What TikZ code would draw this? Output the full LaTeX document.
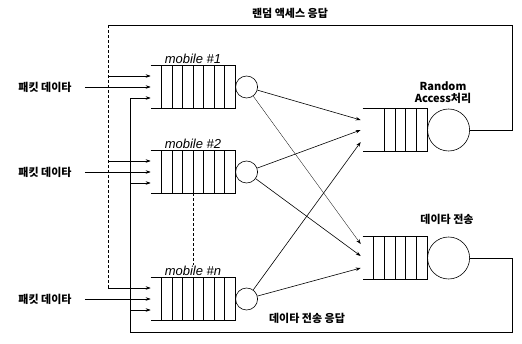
\documentclass[tikz,border=0pt]{standalone}
\usepackage{fontspec}
\newfontfamily\kr{Noto Sans CJK KR}
\newfontfamily\lat{Liberation Sans}
\usetikzlibrary{positioning,calc,arrows.meta}

\begin{document}
\begin{tikzpicture}[x=1pt, y=-1pt, line width=0.6pt,
    lbl/.style={font=\kr\bfseries\fontsize{11}{12}\selectfont, inner sep=1pt},
    mlbl/.style={font=\lat\itshape\fontsize{13}{14}\selectfont, inner sep=1pt},
    qbox/.style={rectangle, minimum width=84pt, minimum height=42pt, inner sep=0pt},
    rqbox/.style={rectangle, minimum width=64pt, minimum height=42pt, inner sep=0pt},
    srv/.style={circle, draw, inner sep=0pt, minimum size=22pt},
    bigsrv/.style={circle, draw, inner sep=0pt, minimum size=42pt},
    conn/.style={-{Stealth[length=5pt, width=3.5pt]}},
    fb/.style={line width=0.5pt}]
    \useasboundingbox (0,0) rectangle (522,343);

    % Feedback corners
    \coordinate (fbA) at (108,25);
    \coordinate (fbAr) at (512,25);
    \coordinate (fbB) at (130,332);
    \coordinate (fbBr) at (512,332);

    % Random access and data queues
    \node[rqbox] (rq) at (395,130) {};
    \node[rqbox] (dq) at (395,258) {};
    \foreach \q/\first in {rq/2, dq/1} {
        \draw (\q.north west) -- (\q.north east) -- (\q.south east) -- (\q.south west);
        \foreach \i in {\first,...,5}
            \draw ($(\q.north west)!\i/6!(\q.north east)$) -- ($(\q.south west)!\i/6!(\q.south east)$);
    }
    \node[bigsrv, right=0pt of rq] (ra) {};
    \node[bigsrv, right=0pt of dq] (dt) {};
    \node[lbl, align=center] (ralbl) at (443,93) {Random\\Access처리};
    \node[lbl] (dtlbl) at (447,219) {데이타 전송};

    % Mobile queues
    \foreach \n/\y in {1/87, 2/172, n/299} {
        \node[qbox] (q\n) at (193,\y) {};
        \draw (q\n.north west) -- (q\n.north east) -- (q\n.south east) -- (q\n.south west);
        \foreach \i in {1,...,7}
            \draw ($(q\n.north west)!\i/8!(q\n.north east)$) -- ($(q\n.south west)!\i/8!(q\n.south east)$);
        \node[srv, right=0pt of q\n] (s\n) {};
        \node[mlbl, above=1pt of q\n] (ml\n) {mobile \#\n};
        \node[lbl] (pk\n) at (45,\y) {패킷 데이타};
        \coordinate (ina\n) at ([yshift=11pt]q\n.west);
        \coordinate (inc\n) at ([yshift=-11pt]q\n.west);
        \draw[conn] ([xshift=12pt]pk\n.east) -- (q\n.west);
    }
    \draw[densely dashed] (q2.south) -- (q2.south |- mln.north);

    % Random access response
    \draw[fb] (ra.east) -| (fbAr) -- (fbA);
    \draw[fb, densely dashed] (fbA) -- (fbA |- inan);
    \foreach \n in {1,2,n}
        \draw[conn, fb] (fbA |- ina\n) -- (ina\n);
    \node[lbl] (ratxt) at (290,13) {랜덤 액세스 응답};

    % Data transmission response
    \draw[fb] (dt.east) -| (fbBr) -- (fbB) -- (fbB |- inc1);
    \foreach \n in {1,2,n}
        \draw[conn, fb] (fbB |- inc\n) -- (inc\n);
    \node[lbl] (dttxt) at (307,318) {데이타 전송 응답};

    % Mobiles to servers
    \draw[conn] (s1) -- ([xshift=-2pt, yshift=10pt]rq.west);
    \draw[conn, line width=0.3pt] (s1) -- ([xshift=-2pt, yshift=14pt]dq.west);
    \draw[conn] (s2) -- ([xshift=-2pt]rq.west);
    \draw[conn] (s2) -- ([xshift=-2pt, yshift=2pt]dq.west);
    \draw[conn] (sn) -- ([xshift=-2pt, yshift=-12pt]rq.west);
    \draw[conn] (sn) -- ([xshift=-2pt, yshift=-10pt]dq.west);
\end{tikzpicture}
\end{document}
